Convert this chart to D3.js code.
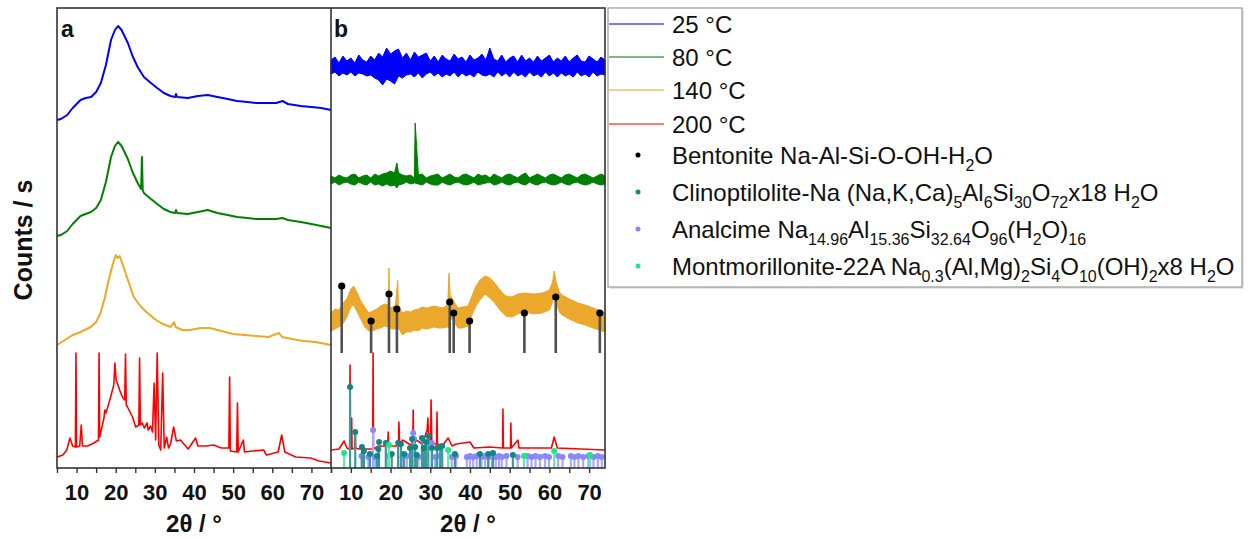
<!DOCTYPE html>
<html>
<head>
<meta charset="utf-8">
<script src="https://cdn.jsdelivr.net/npm/d3@7"></script>
<style>
body { margin: 0; background: #fff; }
text { font-family: "Liberation Sans", Arial, sans-serif; }
</style>
</head>
<body>
<div id="chart"></div>
<script>
// ---- data (2theta in degrees, intensity in arbitrary counts, stacked offsets included) ----
var xTicks = [5, 10, 15, 20, 25, 30, 35, 40, 45, 50, 55, 60, 65, 70, 75];

// panel a
var a25Theta = [5, 6, 7.6, 9, 10, 11, 12.3, 13.7, 15, 16.2, 17.5, 18.8, 19.8, 20.6, 21.5, 23.1, 24.3, 25.6, 27.2, 29, 30.6, 32.3, 34, 35.2, 35.4, 35.7, 38.4, 41, 43.5, 46, 48.6, 51, 53.7, 56, 58.8, 61, 62.6, 64, 67.3, 70, 72.5, 75];
var a25Counts = [348, 349, 353, 360, 364, 368, 370, 371, 376, 385, 403, 428, 438, 442, 438, 425, 412, 401, 391, 385, 380, 375, 372, 371, 374, 371, 370, 372, 373, 371, 369, 367, 366, 365, 365, 365, 367, 364, 362, 361, 360, 358];

var a80Theta = [5, 6, 7.6, 9, 10, 11, 12.3, 13.7, 15, 16.2, 17.5, 18.8, 19.8, 20.6, 21.5, 23.1, 24.3, 25.6, 26.5, 26.7, 26.9, 27.2, 29, 30.6, 32.3, 34, 35.2, 35.4, 35.7, 38.4, 41, 43.5, 46, 48.6, 51, 53.7, 56, 58.8, 61, 62.6, 64, 67.3, 70, 72.5, 75];
var a80Counts = [232, 233, 237, 244, 248, 252, 254, 256, 260, 268, 286, 311, 322, 326, 322, 309, 296, 285, 279, 311, 278, 275, 269, 264, 259, 256, 255, 258, 255, 254, 256, 258, 255, 253, 251, 250, 249, 249, 249, 250, 248, 246, 244, 242, 240];

var a140Theta = [5, 7, 9, 11, 13.6, 15, 16.1, 17.2, 18.2, 19.2, 20, 20.5, 21, 22, 23.3, 24.6, 26.3, 28.1, 30, 31.5, 34, 34.9, 35.3, 37, 39, 41.7, 44, 47, 50, 53, 56, 59, 61.7, 62.5, 65, 68, 71, 75];
var a140Counts = [123, 128, 133, 136, 141, 146, 155, 170, 188, 203, 213, 210, 212, 201, 186, 171, 162, 155, 149, 145, 141, 146, 141, 138, 138, 140, 140, 137, 134, 133, 132, 131, 135, 131, 129, 127, 126, 123];

var a200Theta = [5, 6.5, 7.5, 8.3, 9, 9.7, 9.85, 10, 10.8, 11.2, 11.5, 12.8, 14.4, 15.6, 15.75, 15.9, 16.6, 17, 17.2, 17.5, 18.7, 19.5, 19.8, 20.1, 20.4, 21, 21.7, 22.3, 22.5, 22.7, 23, 24.3, 25.1, 25.9, 26.1, 26.3, 26.8, 27.3, 28, 28.3, 28.9, 29.4, 29.8, 30.2, 30.6, 31, 31.5, 32, 32.4, 33, 33.5, 34, 34.8, 35.5, 36.6, 37.2, 38.5, 40.4, 41, 43, 45, 47, 48.9, 49.1, 49.3, 50.9, 51.1, 51.3, 52.6, 52.9, 55, 57.8, 58.5, 61.5, 62.4, 63.2, 66, 69.8, 72, 75];
var a200Counts = [11, 13, 18, 30, 22, 21, 115, 21, 22, 43, 22, 22, 25, 28, 115, 31, 43, 50, 58, 55, 71, 83, 105, 88, 85, 78, 71, 68, 114, 63, 61, 51, 41, 43, 110, 43, 45, 40, 45, 38, 42, 36, 85, 28, 115, 23, 18, 95, 20, 31, 20, 24, 41, 27, 28, 25, 19, 30, 22, 22, 23, 20, 20, 91, 17, 16, 65, 16, 28, 16, 17, 18, 13, 16, 33, 16, 11, 10, 7, 5];

// panel b (noisy difference patterns given as lower / upper envelopes)
var b25Theta = d3.range(5, 75, 1);
var b25Upper = [408, 411, 405, 412, 407, 410, 405, 413, 408, 406,
                412, 408, 415, 411, 420, 414, 417, 419, 410, 415,
                408, 416, 411, 413, 415, 407, 412, 406, 413, 409,
                407, 414, 409, 411, 406, 413, 408, 410, 414, 408,
                420, 409, 407, 413, 406, 410, 412, 406, 413, 407,
                410, 406, 412, 407, 410, 413, 406, 410, 407, 412,
                406, 410, 413, 407, 406, 412, 409, 406, 411, 408];
var b25Lower = [394, 396, 392, 395, 393, 396, 392, 395, 394, 392,
                393, 390, 388, 383, 389, 387, 384, 392, 390, 393,
                394, 391, 395, 390, 394, 396, 392, 395, 391, 394,
                392, 396, 391, 395, 392, 394, 391, 396, 393, 392,
                394, 391, 396, 392, 395, 391, 396, 392, 394, 391,
                396, 392, 394, 391, 396, 392, 395, 391, 395, 392,
                394, 391, 396, 392, 394, 391, 396, 392, 394, 393];

var b80Theta = [5, 6, 7, 8, 9, 10, 11, 12, 13, 14, 15, 16, 17, 18, 19, 20, 21, 21.6, 22, 23, 24, 25, 26, 26.2,
                27, 28, 29, 30, 31, 32, 33, 34, 35, 36, 37, 38, 39, 40, 41, 42, 43, 44, 45, 46, 47, 48, 49, 50,
                51, 52, 53, 54, 55, 56, 57, 58, 59, 60, 61, 62, 63, 64, 65, 66, 67, 68, 69, 70, 71, 72, 73, 74];
var b80Upper = [292, 290, 293, 291, 290, 293, 294, 290, 292, 293, 290, 294, 292, 294, 295, 297, 295, 305, 295, 293, 292, 293, 290, 345,
                293, 294, 290, 292, 293, 294, 290, 292, 294, 291, 290, 293, 294, 292, 290, 294, 292, 293, 290, 294,
                292, 290, 293, 294, 292, 290, 293, 295, 290, 292, 294, 292, 290, 293, 294, 292, 290, 293, 294, 292,
                290, 293, 294, 292, 290, 292, 294, 292];
var b80Lower = [284, 286, 283, 285, 286, 284, 283, 286, 284, 283, 286, 283, 284, 282, 284, 282, 283, 280, 283, 284, 286, 284, 285, 285,
                284, 283, 286, 284, 283, 283, 286, 284, 283, 285, 286, 284, 283, 284, 286, 283, 284, 285, 286, 283,
                284, 286, 284, 283, 285, 286, 284, 283, 286, 284, 283, 285, 286, 284, 283, 284, 286, 284, 283, 285,
                286, 284, 283, 284, 286, 284, 283, 284];

var b140Theta = [5, 6, 7, 8, 9, 10, 10.7, 11.5, 12.5, 13.5, 14.5, 15.5, 16.5, 17.5, 18.5, 19.4, 19.6, 19.8, 20.5, 21.2, 21.8, 22,
                 23, 24, 25, 26, 27, 28, 29, 30, 31, 32, 33, 34.4, 34.7, 35, 36, 37, 38, 39.5, 40.5, 41.5, 42.5, 43.8,
                 45, 46, 47, 48, 49, 50.6, 52, 53.9, 56, 58.2, 60, 60.8, 61.2, 61.7, 62.5, 63.2, 65, 67.2, 69, 71, 72.5, 74];
var b140Upper = [155, 159, 158, 165, 169, 179, 182, 176, 167, 161, 155, 157, 159, 162, 164, 163, 200, 160, 161, 162, 188, 160,
                 155, 157, 156, 158, 159, 161, 160, 161, 162, 161, 160, 163, 195, 173, 166, 160, 161, 162, 172, 182, 188, 192,
                 190, 186, 181, 176, 172, 171, 174, 175, 174, 175, 178, 186, 197, 186, 176, 173, 169, 165, 163, 160, 158, 155];
var b140Lower = [137, 139, 141, 144, 151, 161, 163, 157, 149, 141, 137, 137, 139, 140, 142, 141, 140, 140, 139, 139, 138, 140,
                 133, 136, 136, 138, 137, 140, 139, 140, 141, 140, 140, 141, 140, 151, 146, 140, 140, 142, 153, 162, 168, 174,
                 170, 166, 161, 156, 152, 151, 154, 156, 154, 155, 158, 166, 178, 166, 156, 153, 149, 145, 143, 140, 138, 136];

var b200Theta = [5, 7, 8.3, 9, 9.7, 9.8, 9.9, 10.1, 10.2, 10.3, 11, 11.1, 11.2, 12, 15.5, 15.6, 15.7, 17, 19.3, 19.4, 19.5, 21, 22.0, 22.1, 22.3, 23, 25.6, 25.7, 25.8, 26.5, 28, 29.2, 29.4, 29.6, 30.1, 30.2, 30.4, 31.6, 31.7, 31.8, 33, 34.5, 35.5, 36.5, 40, 41, 45, 48.2, 48.3, 48.4, 50.2, 50.3, 50.4, 52.1, 52.3, 60.5, 61.2, 62, 74];
var b200Counts = [18, 19, 27, 20, 19, 103, 19, 19, 50, 19, 20, 36, 20, 19, 19, 115, 19, 22, 22, 36, 22, 22, 22, 46, 22, 28, 22, 58, 22, 28, 24, 38, 50, 28, 28, 68, 24, 24, 56, 24, 22, 30, 22, 24, 26, 20, 21, 20, 59, 20, 20, 45, 20, 28, 20, 20, 31, 20, 18];

// reference patterns (stick positions and heights)
var bentBase = 115;
var bentTheta = [7.7, 15.1, 19.6, 21.6, 34.9, 35.9, 39.9, 53.7, 61.6, 72.7];
var bentCounts = [182, 147, 174, 159, 166, 155, 147, 155, 171, 155];

var clinoTheta = [9.8, 11.1, 12.8, 13.3, 14.8, 16.6, 16.9, 17.1, 18.8, 20.3, 21.9, 22.6, 23.4, 24.9, 25.4, 26.2, 26.6, 27.9, 28.4, 28.9, 29.5, 30.4, 31.7, 32.5, 33.0, 36.2, 42.5, 44.6, 45.8, 50.8];
var clinoCounts = [81, 36, 21, 17, 14, 12, 19, 26, 25, 14, 25, 24, 14, 20, 29, 21, 13, 30, 20, 26, 32, 20, 20, 21, 22, 14, 14, 14, 15, 13];

var analTheta = [12.7, 14.4, 15.6, 16.1, 19.4, 23.0, 24.1, 25.7, 25.9, 27.0, 28.7, 30.4, 31.2, 32.4, 35.4, 36.5, 39.2, 40.0, 40.8, 41.7, 42.9, 43.8, 44.6, 45.5, 46.5, 47.3, 48.0, 49.2, 52.0, 54.5, 55.5, 56.5, 57.6, 58.9, 59.9, 62.2, 63.3, 65.4, 66.3, 67.3, 68.5, 69.8, 71.1, 72.2, 73.2];
var analCounts = [12, 11, 38, 11, 12, 11, 12, 35, 29, 11, 12, 25, 11, 12, 11, 12, 11, 12, 11, 12, 11, 12, 11, 12, 11, 12, 11, 12, 11, 12, 11, 12, 11, 12, 11, 12, 11, 12, 11, 12, 11, 12, 11, 12, 11];

var montTheta = [8.3, 19.6, 34.5, 53.6, 61.2, 70.2];
var montCounts = [15, 23, 18, 12, 17, 13];

var seriesNames = ["25 \u00b0C", "80 \u00b0C", "140 \u00b0C", "200 \u00b0C"];
var seriesColors = ["#0000ff", "#008000", "#eca82a", "#ff0000"];
var phaseNames = ["Bentonite Na-Al-Si-O-OH-H_{2}O",
                  "Clinoptilolite-Na (Na,K,Ca)_{5}Al_{6}Si_{30}O_{72}x18 H_{2}O",
                  "Analcime Na_{14.96}Al_{15.36}Si_{32.64}O_{96}(H_{2}O)_{16}",
                  "Montmorillonite-22A Na_{0.3}(Al,Mg)_{2}Si_{4}O_{10}(OH)_{2}x8 H_{2}O"];
var phaseColors = ["#000000", "#138585", "#8787ff", "#1ee884"];

// ---- drawing ----
var svg = d3.select("#chart").append("svg")
    .attr("width", 1250)
    .attr("height", 538);

var plotTop = 8, plotBottom = 468;
var xA = d3.scaleLinear().domain([5, 75]).range([57, 331]);
var xB = d3.scaleLinear().domain([5, 74]).range([331, 605]);
var y = d3.scaleLinear().domain([0, 460]).range([plotBottom, plotTop]);

function zip(a, b) { return a.map(function (d, i) { return [d, b[i]]; }); }
function zip3(a, b, c) { return a.map(function (d, i) { return [d, b[i], c[i]]; }); }

function drawLine(x, theta, counts, color, w) {
    svg.append("path")
        .datum(zip(theta, counts))
        .attr("fill", "none")
        .attr("stroke", color)
        .attr("stroke-width", w)
        .attr("stroke-linejoin", "round")
        .attr("d", d3.line().x(function (d) { return x(d[0]); }).y(function (d) { return y(d[1]); }));
}

// noisy trace drawn as its filled envelope
function drawBand(x, theta, lo, hi, color) {
    svg.append("path")
        .datum(zip3(theta, lo, hi))
        .attr("fill", color)
        .attr("stroke", color)
        .attr("stroke-width", 1)
        .attr("stroke-linejoin", "round")
        .attr("d", d3.area()
            .x(function (d) { return x(d[0]); })
            .y0(function (d) { return y(d[1]); })
            .y1(function (d) { return y(d[2]); }));
}

function drawSticks(x, theta, counts, base, stemColor, dotColor, w, r) {
    var g = svg.append("g");
    g.selectAll("line").data(zip(theta, counts)).enter().append("line")
        .attr("x1", function (d) { return x(d[0]); })
        .attr("x2", function (d) { return x(d[0]); })
        .attr("y1", y(base))
        .attr("y2", function (d) { return y(d[1]); })
        .attr("stroke", stemColor)
        .attr("stroke-width", w);
    g.selectAll("circle").data(zip(theta, counts)).enter().append("circle")
        .attr("cx", function (d) { return x(d[0]); })
        .attr("cy", function (d) { return y(d[1]); })
        .attr("r", r)
        .attr("fill", dotColor);
}

// panel a
drawLine(xA, a25Theta, a25Counts, seriesColors[0], 2);
drawLine(xA, a80Theta, a80Counts, seriesColors[1], 2);
drawLine(xA, a140Theta, a140Counts, seriesColors[2], 2);
drawLine(xA, a200Theta, a200Counts, seriesColors[3], 1.6);

// panel b
drawBand(xB, b25Theta, b25Lower, b25Upper, seriesColors[0]);
drawBand(xB, b80Theta, b80Lower, b80Upper, seriesColors[1]);
drawBand(xB, b140Theta, b140Lower, b140Upper, seriesColors[2]);
drawSticks(xB, bentTheta, bentCounts, bentBase, "#505050", "#000", 2.6, 3.6);
drawLine(xB, b200Theta, b200Counts, seriesColors[3], 1.6);
drawSticks(xB, analTheta, analCounts, 0, "#a9a9ff", phaseColors[2], 2.2, 3);
drawSticks(xB, clinoTheta, clinoCounts, 0, "#3e9a9a", phaseColors[1], 2.2, 3);
drawSticks(xB, montTheta, montCounts, 0, "#5ff0a8", phaseColors[3], 2.2, 3);

// frame
svg.append("rect")
    .attr("x", 57).attr("y", plotTop).attr("width", 548).attr("height", plotBottom - plotTop)
    .attr("fill", "none").attr("stroke", "#333").attr("stroke-width", 1.6);
svg.append("line")
    .attr("x1", 331).attr("x2", 331).attr("y1", plotTop).attr("y2", plotBottom)
    .attr("stroke", "#333").attr("stroke-width", 1.6);

// axes
function drawAxis(x, label) {
    var ax = svg.append("g")
        .attr("transform", "translate(0," + plotBottom + ")")
        .call(d3.axisBottom(x)
            .tickValues(xTicks.filter(function (t) { return t <= x.domain()[1]; }))
            .tickFormat(function (d) { return (d % 10 === 0) ? d : ""; })
            .tickSize(5)
            .tickPadding(11));
    ax.select(".domain").remove();
    ax.selectAll(".tick line").attr("stroke", "#333").attr("stroke-width", 1.4);
    ax.selectAll(".tick text")
        .attr("fill", "#111")
        .style("font-family", "Liberation Sans, Arial, sans-serif")
        .style("font-size", "22px")
        .style("font-weight", "bold");
    svg.append("text")
        .attr("x", (x.range()[0] + x.range()[1]) / 2)
        .attr("y", 532)
        .attr("text-anchor", "middle")
        .attr("font-size", "24px")
        .attr("font-weight", "bold")
        .attr("fill", "#111")
        .text(label);
}
drawAxis(xA, "2\u03b8 / \u00b0");
drawAxis(xB, "2\u03b8 / \u00b0");

svg.append("text")
    .attr("transform", "translate(32,240) rotate(-90)")
    .attr("text-anchor", "middle")
    .attr("font-size", "25px")
    .attr("font-weight", "bold")
    .attr("fill", "#111")
    .text("Counts / s");

svg.append("text").attr("x", 61).attr("y", 37)
    .attr("font-size", "23px").attr("font-weight", "bold").attr("fill", "#111").text("a");
svg.append("text").attr("x", 334).attr("y", 37)
    .attr("font-size", "23px").attr("font-weight", "bold").attr("fill", "#111").text("b");

// legend
var lg = svg.append("g");
lg.append("rect")
    .attr("x", 610).attr("y", 10).attr("width", 634).attr("height", 279)
    .attr("fill", "#e6e6e6");
lg.append("rect")
    .attr("x", 608).attr("y", 8).attr("width", 634).attr("height", 279)
    .attr("fill", "#fff").attr("stroke", "#999").attr("stroke-width", 1.2);

var lineRows = [24, 57, 90, 124];
seriesNames.forEach(function (name, i) {
    lg.append("line")
        .attr("x1", 609).attr("x2", 664)
        .attr("y1", lineRows[i]).attr("y2", lineRows[i])
        .attr("stroke", seriesColors[i]).attr("stroke-opacity", 0.7).attr("stroke-width", 1.5);
    lg.append("text")
        .attr("x", 672).attr("y", lineRows[i] + 8.5)
        .attr("font-size", "24px").attr("fill", "#111")
        .text(name);
});

function richText(sel, str) {
    var parts = str.split(/(_\{[^}]*\})/);
    var shifted = false;
    parts.forEach(function (p) {
        if (!p) return;
        if (p.indexOf("_{") === 0) {
            sel.append("tspan").attr("dy", shifted ? 0 : 7).attr("font-size", "16px").text(p.slice(2, -1));
            shifted = true;
        } else {
            sel.append("tspan").attr("dy", shifted ? -7 : 0).text(p);
            shifted = false;
        }
    });
}

var dotRows = [155, 192, 229, 266];
phaseNames.forEach(function (name, i) {
    lg.append("circle")
        .attr("cx", 638).attr("cy", dotRows[i]).attr("r", 2.5)
        .attr("fill", phaseColors[i]);
    var t = lg.append("text")
        .attr("x", 672).attr("y", dotRows[i] + 8.5)
        .attr("font-size", "24px").attr("fill", "#111");
    richText(t, name);
});
</script>
</body>
</html>
